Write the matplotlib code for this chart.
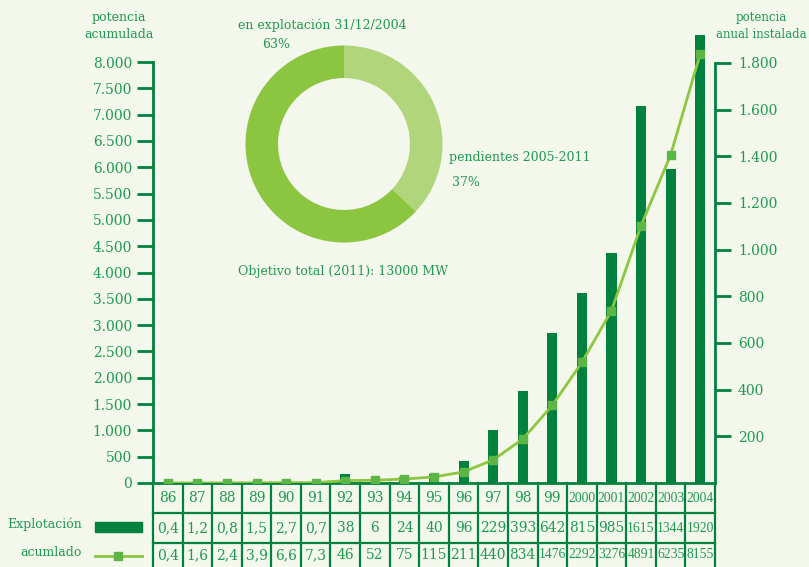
import numpy as np
import matplotlib.pyplot as plt
from matplotlib.transforms import blended_transform_factory
from matplotlib.patches import Rectangle
from matplotlib.lines import Line2D

# --- Données ---
anos = ["86", "87", "88", "89", "90", "91", "92", "93", "94", "95", "96", "97",
        "98", "99", "2000", "2001", "2002", "2003", "2004"]
explotacion = [0.4, 1.2, 0.8, 1.5, 2.7, 0.7, 38, 6, 24, 40, 96, 229, 393, 642,
               815, 985, 1615, 1344, 1920]
acumulado = [0.4, 1.6, 2.4, 3.9, 6.6, 7.3, 46, 52, 75, 115, 211, 440, 834, 1476,
             2292, 3276, 4891, 6235, 8155]
explot_txt = ["0,4", "1,2", "0,8", "1,5", "2,7", "0,7", "38", "6", "24", "40", "96",
              "229", "393", "642", "815", "985", "1615", "1344", "1920"]
acum_txt = ["0,4", "1,6", "2,4", "3,9", "6,6", "7,3", "46", "52", "75", "115", "211",
            "440", "834", "1476", "2292", "3276", "4891", "6235", "8155"]
ticks_acum = [0, 500, 1000, 1500, 2000, 2500, 3000, 3500, 4000, 4500, 5000,
              5500, 6000, 6500, 7000, 7500, 8000]
ticks_anual = [200, 400, 600, 800, 1000, 1200, 1400, 1600, 1800]
donut_vals = [37, 63]  # pendientes, en explotación

# --- Couleurs ---
BG = "#f3f7ec"
DARK = "#00813d"
TXT = "#1f9a50"
LINE = "#8dc63f"
MARK = "#5cb646"
PIE_LIGHT = "#b1d57a"
PIE_MAIN = "#8cc540"

plt.rcParams["font.family"] = ["DejaVu Serif"]

W, H = 809, 567
fig = plt.figure(figsize=(W / 100, H / 100), dpi=100, facecolor=BG)


def fx(px):
    return px / W


def fy(py):
    return 1 - py / H


# zone du graphique (pixels)
x0, x1, ytop, ybot = 153, 715, 30, 483
rect = [fx(x0), fy(ybot), fx(x1 - x0), (ybot - ytop) / H]
ax_bar = fig.add_axes(rect)
ax_line = ax_bar.twinx()

n = len(anos)
x = np.arange(n)
ax_bar.bar(x, explotacion, width=0.34, color=DARK, zorder=2)
ax_line.plot(x, acumulado, color=LINE, lw=2, marker="s", ms=6,
             mfc=MARK, mec=MARK, zorder=3)

ax_bar.set_xlim(-0.5, n - 0.5)
ax_bar.set_ylim(0, 1800 * (ybot - ytop) / (ybot - 63))
ax_line.set_ylim(0, 8000 * (ybot - ytop) / (ybot - 62))

for a in (ax_bar, ax_line):
    a.patch.set_visible(False)
    for s in a.spines.values():
        s.set_visible(False)
    a.set_xticks([])

ax_bar.yaxis.tick_right()
ax_line.yaxis.tick_left()

ax_line.set_yticks(ticks_acum)
ax_line.set_yticklabels([f"{v:,}".replace(",", ".") for v in ticks_acum])
ax_bar.set_yticks(ticks_anual)
ax_bar.set_yticklabels([f"{v:,}".replace(",", ".") for v in ticks_anual])

ax_line.spines["left"].set_visible(True)
ax_line.spines["left"].set_bounds(0, 8000)
ax_line.spines["left"].set_color(DARK)
ax_line.spines["left"].set_linewidth(2)
ax_bar.spines["right"].set_visible(True)
ax_bar.spines["right"].set_bounds(0, 1800)
ax_bar.spines["right"].set_color(DARK)
ax_bar.spines["right"].set_linewidth(2)

ax_line.tick_params(axis="y", direction="out", length=11.5, width=2, color=DARK,
                    labelcolor=TXT, labelsize=10, pad=3.5)
ax_bar.tick_params(axis="y", direction="out", length=11.5, width=2, color=DARK,
                   labelcolor=TXT, labelsize=10, pad=5)

# --- Tableau sous le graphique ---
tr = blended_transform_factory(ax_bar.transData, ax_bar.transAxes)
hpx = ybot - ytop
row_h = 30 / hpx
for k in range(n + 1):
    ax_bar.plot([k - 0.5, k - 0.5], [0, -3 * row_h], transform=tr, color=DARK,
                lw=1.6, clip_on=False)
for r in range(3):
    ax_bar.plot([-0.5, n - 0.5], [-r * row_h] * 2, transform=tr, color=DARK,
                lw=2 if r == 0 else 1.6, clip_on=False)

rows = [(anos, -15 / hpx), (explot_txt, -45 / hpx), (acum_txt, -72 / hpx)]
for labels, yy in rows:
    for i, s in enumerate(labels):
        if len(s) >= 4:
            ax_bar.text(i, yy, s, transform=tr, ha="center", va="center",
                        fontsize=9.8, family="Liberation Serif", color=TXT,
                        clip_on=False)
        else:
            ax_bar.text(i, yy, s, transform=tr, ha="center", va="center",
                        fontsize=10, color=TXT, clip_on=False)

# légende à gauche du tableau
fig.text(fx(82), fy(524), "Explotación", ha="right", va="center",
         fontsize=9, color=TXT)
fig.patches.append(Rectangle((fx(95), fy(532)), fx(47), 10 / H,
                             transform=fig.transFigure, color=DARK))
fig.text(fx(82), fy(553), "acumlado", ha="right", va="center",
         fontsize=9, color=TXT)
fig.lines.append(Line2D([fx(95), fx(142)], [fy(556)] * 2, transform=fig.transFigure,
                        color=LINE, lw=2))
fig.lines.append(Line2D([fx(118)], [fy(556)], transform=fig.transFigure,
                        marker="s", ms=6, mfc=MARK, mec=MARK, lw=0))

# titres des axes
fig.text(fx(119), fy(26), "potencia\nacumulada", ha="center", va="center",
         fontsize=9, color=TXT, linespacing=1.4)
fig.text(fx(807), fy(26), "potencia\nanual instalada", ha="right", va="center",
         fontsize=8.5, color=TXT, linespacing=1.45, multialignment="center")

# --- Donut ---
cx, cy, r = 344, 144, 98.5
ax_pie = fig.add_axes([fx(cx - r), fy(cy + r), fx(2 * r), 2 * r / H])
ax_pie.pie(donut_vals, colors=[PIE_LIGHT, PIE_MAIN], startangle=90,
           counterclock=False, radius=1, wedgeprops=dict(width=0.33))
ax_pie.set_xlim(-1, 1)
ax_pie.set_ylim(-1, 1)
ax_pie.axis("off")

fig.text(fx(238), fy(25), "en explotación 31/12/2004", ha="left", va="center",
         fontsize=9, color=TXT)
fig.text(fx(262), fy(45), "63%", ha="left", va="center", fontsize=9, color=TXT)
fig.text(fx(449), fy(158), "pendientes 2005-2011", ha="left", va="center",
         fontsize=9, color=TXT)
fig.text(fx(452), fy(182), "37%", ha="left", va="center", fontsize=9, color=TXT)
fig.text(fx(238), fy(271), "Objetivo total (2011): 13000 MW", ha="left",
         va="center", fontsize=9, color=TXT)

fig.savefig("out.png", dpi=100, facecolor=BG)
